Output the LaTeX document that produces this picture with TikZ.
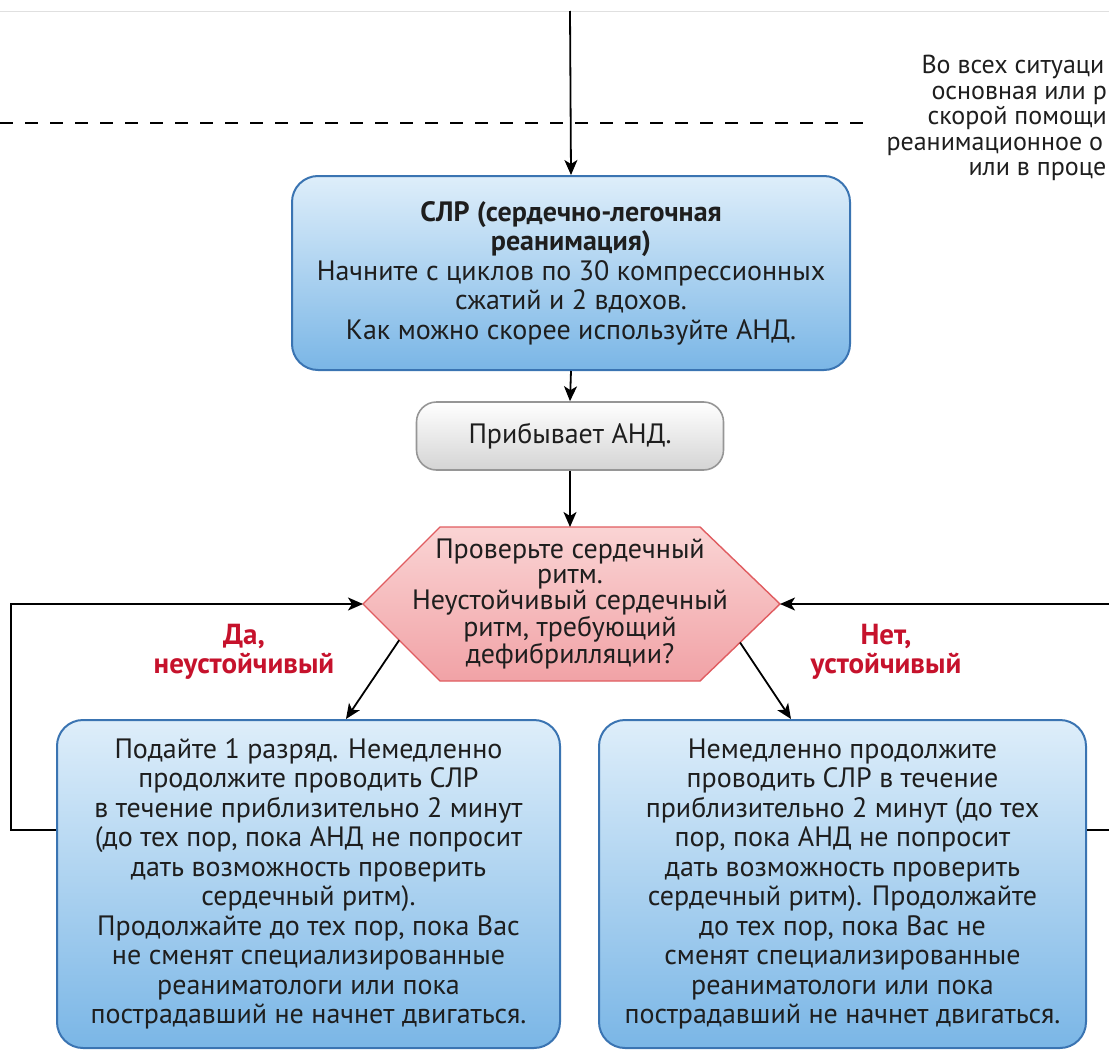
\documentclass[tikz,border=0pt]{standalone}
\usepackage{fontspec}
\setmainfont{PT Sans}
\usetikzlibrary{arrows.meta,calc}
\definecolor{boxline}{RGB}{58,116,178}
\definecolor{boxtop}{RGB}{222,238,250}
\definecolor{boxbot}{RGB}{122,182,230}
\definecolor{aedline}{RGB}{150,150,150}
\definecolor{aedbot}{RGB}{212,212,212}
\definecolor{hexline}{RGB}{224,92,96}
\definecolor{hextop}{RGB}{250,212,212}
\definecolor{hexbot}{RGB}{241,162,166}
\definecolor{lblred}{RGB}{198,18,44}
\definecolor{txt}{RGB}{30,30,30}
\begin{document}
\begin{tikzpicture}[x=1pt, y=-1pt,
    every node/.style={text=txt, font={\fontsize{28}{29.5}\selectfont}},
    bluebox/.style={draw=boxline, line width=2pt, rounded corners=26pt,
      top color=boxtop, bottom color=boxbot, align=center, inner sep=0pt},
    aedbox/.style={draw=aedline, line width=1.6pt, rounded corners=20pt,
      top color=white, bottom color=aedbot, align=center},
    lbl/.style={text=lblred, align=center, font={\fontsize{29}{29}\selectfont\bfseries}},
    note/.style={anchor=base west, font={\fontsize{26}{26}\selectfont}},
    arr/.style={line width=1.8pt, -{Stealth[length=15pt, width=13pt, inset=4pt]}}]
  \useasboundingbox (0,0) rectangle (1109,1052);
  \draw[black!12, line width=1pt] (0,11) -- (1109,11);
  \draw[line width=2pt, dash pattern=on 13pt off 12pt] (0,123) -- (864,123);
  \foreach \x/\y/\t [count=\i] in {918/73/Во всех ситуаци, 928/99/основная или р,
      924/124/скорой помощи, 883/150/реанимационное о, 965/175/или в проце}
    \node[note] (note\i) at (\x,\y) {\t};
  \coordinate (top) at (570,11);
  \node[bluebox, minimum width=558pt, minimum height=194pt] (slr) at (571,273)
    {\textbf{СЛР (сердечно-легочная}\\\textbf{реанимация)}\\
     Начните с циклов по 30 компрессионных\\сжатий и 2 вдохов.\\
     Как можно скорее используйте АНД.};
  \node[aedbox, minimum width=307pt, minimum height=68pt] (aed) at (570,436) {Прибывает АНД.};
  \coordinate (hw) at (363,604);
  \coordinate (hnw) at (440,527);
  \coordinate (hne) at (700,527);
  \coordinate (he) at (780,604);
  \coordinate (hse) at (700,681);
  \coordinate (hsw) at (440,681);
  \path[draw=hexline, line width=1.4pt, top color=hextop, bottom color=hexbot]
    (hw) -- (hnw) -- (hne) -- (he) -- (hse) -- (hsw) -- cycle;
  \node[align=center, font={\fontsize{28}{25.5}\selectfont}] (check) at (570,604)
    {Проверьте сердечный\\ритм.\\Неустойчивый сердечный\\ритм, требующий\\дефибрилляции?};
  \node[bluebox, minimum width=503pt, minimum height=328pt] (yes) at (308.5,884)
    {Подайте 1 разряд. Немедленно\\продолжите проводить СЛР\\
     в течение приблизительно 2 минут\\(до тех пор, пока АНД не попросит\\
     дать возможность проверить\\сердечный ритм).\\
     Продолжайте до тех пор, пока Вас\\не сменят специализированные\\
     реаниматологи или пока\\пострадавший не начнет двигаться.};
  \node[bluebox, minimum width=487pt, minimum height=328pt] (no) at (842.5,884)
    {Немедленно продолжите\\проводить СЛР в течение\\
     приблизительно 2 минут (до тех\\пор, пока АНД не попросит\\
     дать возможность проверить\\сердечный ритм). Продолжайте\\
     до тех пор, пока Вас не\\сменят специализированные\\
     реаниматологи или пока\\пострадавший не начнет двигаться.};
  \node[lbl] (lblyes) at (244,652) {Да,\\неустойчивый};
  \node[lbl] (lblno) at (886,652) {Нет,\\устойчивый};
  \draw[arr] (top) -- (slr.north);
  \draw[arr] (slr.south) -- (aed.north);
  \draw[arr] (aed.south) -- (check |- hnw);
  \draw[arr] ($(hw)!0.47!(hsw)$) -- ([xshift=37.5pt]yes.north);
  \draw[arr] ($(he)!0.5!(hse)$) -- ([xshift=-51.5pt]no.north);
  \draw[arr] ([yshift=54pt]yes.west) -- ++(-45,0) |- (hw);
  \draw[arr] ([yshift=54pt]no.east) -- ++(40,0) |- (he);
\end{tikzpicture}
\end{document}
